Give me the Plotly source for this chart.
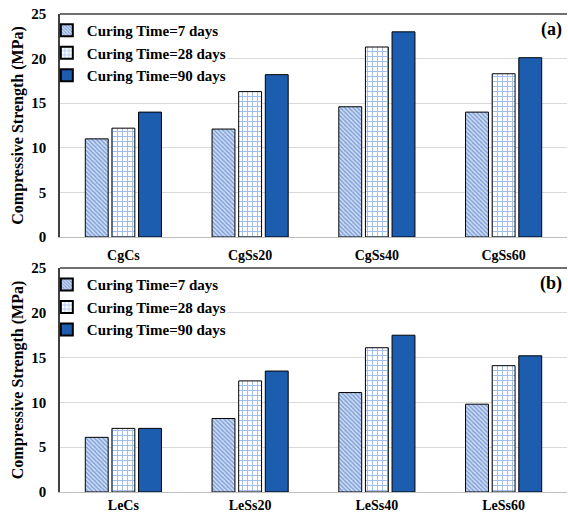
import plotly.graph_objects as go
from plotly.subplots import make_subplots

cats_a = ["CgCs", "CgSs20", "CgSs40", "CgSs60"]
cats_b = ["LeCs", "LeSs20", "LeSs40", "LeSs60"]
series_names = ["Curing Time=7 days", "Curing Time=28 days", "Curing Time=90 days"]
vals_a_7 = [11.0, 12.1, 14.6, 14.0]
vals_a_28 = [12.2, 16.3, 21.3, 18.3]
vals_a_90 = [14.0, 18.2, 23.0, 20.1]
vals_b_7 = [6.1, 8.2, 11.1, 9.8]
vals_b_28 = [7.1, 12.4, 16.1, 14.1]
vals_b_90 = [7.1, 13.5, 17.5, 15.2]
y_ticks = [0, 5, 10, 15, 20, 25]
panel_labels = ["(a)", "(b)"]
y_title = "Compressive Strength (MPa)"

SERIF = "Liberation Serif, Times New Roman, serif"
BOLD = dict(family=SERIF, color="#000000", weight="bold")

markers = [
    dict(color="#c9daf3", line=dict(color="#000000", width=1),
         pattern=dict(shape="\\", fgcolor="#2f62bd", bgcolor="#d6e3f6", size=3, solidity=0.55)),
    dict(color="#ffffff", line=dict(color="#000000", width=1),
         pattern=dict(shape="+", fgcolor="#3f7bd2", bgcolor="#ffffff", size=5, solidity=0.35)),
    dict(color="#1c5db0", line=dict(color="#000000", width=1)),
]

fig = make_subplots(rows=2, cols=1)

for row, cats, vals, leg in [(1, cats_a, [vals_a_7, vals_a_28, vals_a_90], "legend"),
                             (2, cats_b, [vals_b_7, vals_b_28, vals_b_90], "legend2")]:
    for name, v, mk in zip(series_names, vals, markers):
        fig.add_trace(go.Bar(x=cats, y=v, name=name, marker=mk, legend=leg,
                             showlegend=True), row=row, col=1)

ax_common = dict(
    showgrid=False, showline=True, linecolor="#bfbfbf", linewidth=1,
    ticks="outside", tickcolor="rgba(0,0,0,0)", automargin=False,
    tickfont=dict(size=14, **BOLD),
)
y_common = dict(
    range=[0, 25], tickvals=y_ticks, showgrid=True, gridcolor="#d9d9d9", gridwidth=1,
    showline=True, linecolor="#404040", linewidth=1.5, zeroline=False, automargin=False,
    ticks="outside", ticklen=9, tickcolor="rgba(0,0,0,0)",
    tickfont=dict(size=15, **BOLD),
    title=dict(text=y_title, font=dict(size=16, **BOLD), standoff=4),
)

legend_common = dict(xanchor="left", yanchor="top", bgcolor="rgba(0,0,0,0)",
                     font=dict(size=15, **BOLD), tracegroupgap=0, itemsizing="constant")

fig.update_layout(
    width=568, height=512,
    margin=dict(l=60, r=1, t=14, b=20, autoexpand=False),
    paper_bgcolor="#ffffff", plot_bgcolor="#ffffff",
    barmode="group", bargap=0.37, bargroupgap=0.14,
    xaxis=dict(domain=[0, 1], ticklen=5, **ax_common),
    xaxis2=dict(domain=[0, 1], ticklen=0, **ax_common),
    yaxis=dict(domain=[0.5335, 1.0], **y_common),
    yaxis2=dict(domain=[0.0, 0.4686], **y_common),
    legend=dict(x=-0.026, y=1.0, **legend_common),
    legend2=dict(x=-0.026, y=0.468, **legend_common),
    showlegend=True,
)

for xr, yr in [("x", "y"), ("x2", "y2")]:
    # white legend background over the gridline (below the bars)
    fig.add_shape(type="rect", xref=xr, yref=yr, x0=-0.49, x1=0.82, y0=17.5, y1=24.8,
                  fillcolor="#ffffff", line=dict(width=0), layer="between")
for xr, yr in [("x domain", "y domain"), ("x2 domain", "y2 domain")]:
    # top border of plot area
    fig.add_shape(type="line", xref=xr, yref=yr, x0=0, x1=1, y0=1, y1=1,
                  line=dict(color="#404040", width=1.5))

for lab, xr, yr in zip(panel_labels, ["x domain", "x2 domain"], ["y domain", "y2 domain"]):
    fig.add_annotation(text=lab, xref=xr, yref=yr, x=0.995, y=0.985,
                       xanchor="right", yanchor="top", showarrow=False,
                       font=dict(size=18, **BOLD))

fig.write_html("out.html", config={"displayModeBar": False},
               post_script="document.body.style.margin='0';document.body.style.padding='0';")
